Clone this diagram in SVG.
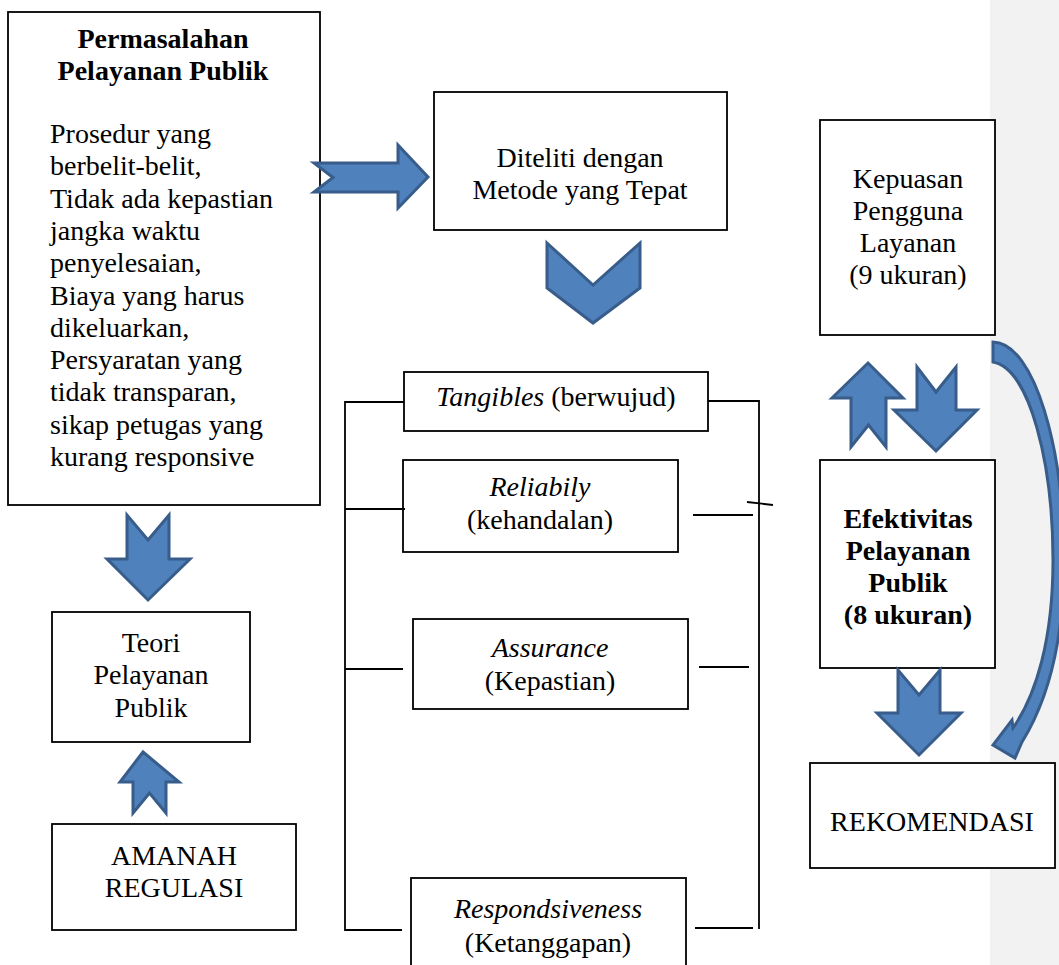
<svg xmlns="http://www.w3.org/2000/svg" width="1059" height="965" viewBox="0 0 1059 965">
<style>
.box{fill:#fff;stroke:#000;stroke-width:1.8}
.t{font-family:"Liberation Serif","Times New Roman",serif;font-size:28px;fill:#000}
.c{text-anchor:middle}
.b{font-weight:bold}
.i{font-style:italic}
.arw{fill:#4f81bd;stroke:#385d8a;stroke-width:3;stroke-linejoin:miter}
.ln{stroke:#000;stroke-width:1.8;fill:none}
</style>
<rect x="990" y="0" width="69" height="965" fill="#f2f2f2"/>

<g id="permasalahan">
<rect class="box" x="8" y="12" width="312" height="493"/>
<text class="t b c" x="163" y="48">Permasalahan</text>
<text class="t b c" x="163" y="80">Pelayanan Publik</text>
<text class="t" x="50" y="143">Prosedur yang</text>
<text class="t" x="50" y="175.3">berbelit-belit,</text>
<text class="t" x="50" y="207.6">Tidak ada kepastian</text>
<text class="t" x="50" y="239.9">jangka waktu</text>
<text class="t" x="50" y="272.2">penyelesaian,</text>
<text class="t" x="50" y="304.5">Biaya yang harus</text>
<text class="t" x="50" y="336.8">dikeluarkan,</text>
<text class="t" x="50" y="369.1">Persyaratan yang</text>
<text class="t" x="50" y="401.4">tidak transparan,</text>
<text class="t" x="50" y="433.7">sikap petugas yang</text>
<text class="t" x="50" y="466">kurang responsive</text>
</g>

<g id="diteliti">
<rect class="box" x="434" y="92" width="293" height="138"/>
<text class="t c" x="580" y="167">Diteliti dengan</text>
<text class="t c" x="580" y="199">Metode yang Tepat</text>
</g>

<g id="kepuasan">
<rect class="box" x="820" y="120" width="175" height="215"/>
<text class="t c" x="908" y="188">Kepuasan</text>
<text class="t c" x="908" y="220">Pengguna</text>
<text class="t c" x="908" y="252">Layanan</text>
<text class="t c" x="908" y="284">(9 ukuran)</text>
</g>

<g id="efektivitas">
<rect class="box" x="820" y="460" width="175" height="208"/>
<text class="t b c" x="908" y="528">Efektivitas</text>
<text class="t b c" x="908" y="560">Pelayanan</text>
<text class="t b c" x="908" y="592">Publik</text>
<text class="t b c" x="908" y="624">(8 ukuran)</text>
</g>

<g id="rekomendasi">
<rect class="box" x="810" y="763" width="245" height="105"/>
<text class="t c" x="932" y="831">REKOMENDASI</text>
</g>

<g id="teori">
<rect class="box" x="52" y="612" width="198" height="130"/>
<text class="t c" x="151" y="652">Teori</text>
<text class="t c" x="151" y="684">Pelayanan</text>
<text class="t c" x="151" y="717">Publik</text>
</g>

<g id="amanah">
<rect class="box" x="52" y="824" width="244" height="106"/>
<text class="t c" x="174" y="865">AMANAH</text>
<text class="t c" x="174" y="897">REGULASI</text>
</g>

<g id="tangibles">
<rect class="box" x="404" y="372" width="304" height="59"/>
<text class="t c" x="556" y="406"><tspan class="i">Tangibles</tspan> (berwujud)</text>
</g>

<g id="reliabily">
<rect class="box" x="403" y="460" width="275" height="92"/>
<text class="t c i" x="540" y="496">Reliabily</text>
<text class="t c" x="540" y="529">(kehandalan)</text>
</g>

<g id="assurance">
<rect class="box" x="413" y="619" width="275" height="90"/>
<text class="t c i" x="550" y="657">Assurance</text>
<text class="t c" x="550" y="690">(Kepastian)</text>
</g>

<g id="responsiveness">
<rect class="box" x="411" y="878" width="275" height="100"/>
<text class="t c i" x="548" y="918">Respondsiveness</text>
<text class="t c" x="548" y="952">(Ketanggapan)</text>
</g>

<g id="connectors">
<path class="ln" d="M404,402 H345 V930 H402"/>
<path class="ln" d="M345,509 H405"/>
<path class="ln" d="M345,669 H403"/>
<path class="ln" d="M708,401 H759 V929"/>
<path class="ln" d="M693,515 H753"/>
<path class="ln" d="M747,502 L773,505"/>
<path class="ln" d="M699,667 H749"/>
<path class="ln" d="M695,928 H753"/>

<polygon class="arw" points="314,163 398,163 398,145 428,177 398,208 398,192 314,192 333,177.5"/>
<polygon class="arw" points="547,243 593,285 640,243 640,288 593,323 547,288"/>
<polygon class="arw" points="148,540 169,515 169,559 190,559 148,600 107,559 127,559 127,515"/>
<polygon class="arw" points="143,752 179,782 166,782 166,813 149.5,793 133,813 133,782 120,782"/>
<polygon class="arw" points="868,363 903,398 886,398 886,447 868.5,425 851,447 851,398 832,398"/>
<polygon class="arw" points="936,392 956,367 956,410 977,410 936,451 894,410 917,410 917,367"/>
<polygon class="arw" points="919,695 940,670 940,713 961,713 919,755 877,713 898,713 898,670"/>
<path class="arw" stroke-width="2.5" d="M993,342 C1035,343 1064,450 1064,560 C1064,640 1048,700 1022,742 L1015,758 L993,745 L1012,720 L1013,728 C1036,695 1053,640 1053,560 C1053,465 1030,368 993,362 Z"/>
</g>
</svg>
